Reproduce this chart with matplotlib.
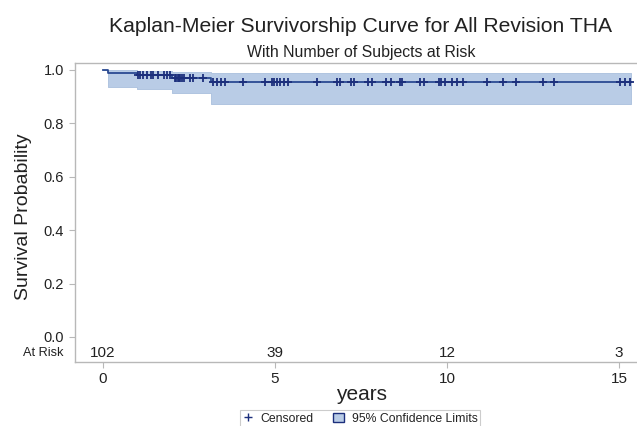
import numpy as np

import matplotlib
matplotlib.use("Agg")
import matplotlib.pyplot as plt
from matplotlib.lines import Line2D
from matplotlib.patches import Patch
from matplotlib.transforms import blended_transform_factory


plt.rcParams["font.family"] = ["Liberation Sans", "DejaVu Sans"]

# Kaplan-Meier step curve (years)
EVENT_TIMES = [0.0, 0.15, 0.98, 2.0, 3.13]
SURVIVAL = [1.0, 0.990, 0.980, 0.970, 0.955]
CI_LOWER = [1.0, 0.937, 0.928, 0.912, 0.872]
CI_UPPER = [1.0, 1.000, 0.996, 0.992, 0.988]
END_TIME = 15.35

CENSORED = [
    1.03, 1.08, 1.17, 1.29, 1.39, 1.46, 1.61, 1.77, 1.87, 1.95,
    2.09, 2.13, 2.17, 2.21, 2.25, 2.30, 2.35, 2.53, 2.62, 2.92,
    3.21, 3.31, 3.42, 3.55, 4.06, 4.71, 4.90, 4.97, 5.05, 5.15,
    5.26, 5.39, 6.21, 6.80, 6.88, 7.21, 7.30, 7.71, 7.82, 8.24,
    8.36, 8.63, 8.70, 9.22, 9.33, 9.78, 9.83, 9.94, 10.14, 10.30,
    10.47, 11.15, 11.62, 12.01, 12.80, 13.11, 15.03, 15.17, 15.32,
]

RISK_TIMES = [0, 5, 10, 15]
AT_RISK = [102, 39, 12, 3]

LINE_COLOR = "#2b4a92"
MARK_COLOR = "#1c2f7c"
BAND_COLOR = "#b9cce6"
SPINE_COLOR = "#b8b8b8"
TEXT_COLOR = "#222222"


def survival_at(times):
    idx = np.searchsorted(EVENT_TIMES, times, side="right") - 1
    return np.asarray(SURVIVAL)[idx]


def main():
    fig = plt.figure(figsize=(6.37, 4.26), dpi=100)
    ax = fig.add_axes([75 / 637, 64 / 426, 562 / 637, 299 / 426])

    t = EVENT_TIMES + [END_TIME]
    s = SURVIVAL + [SURVIVAL[-1]]
    lo = CI_LOWER + [CI_LOWER[-1]]
    hi = CI_UPPER + [CI_UPPER[-1]]

    ax.fill_between(t, lo, hi, step="post", color=BAND_COLOR,
                    edgecolor="#a9bfdd", linewidth=0.6)
    ax.step(t, s, where="post", color=LINE_COLOR, linewidth=1.3)
    ax.plot(CENSORED, survival_at(CENSORED), linestyle="none", marker="+",
            markersize=6, markeredgewidth=1.3, color=MARK_COLOR)

    ax.set_xlim(-0.81, 15.52)
    ax.set_ylim(-0.094, 1.026)
    ax.set_xticks(RISK_TIMES)
    ax.set_yticks([0.0, 0.2, 0.4, 0.6, 0.8, 1.0])
    ax.set_yticklabels(["0.0", "0.2", "0.4", "0.6", "0.8", "1.0"])

    for side in ["left", "bottom", "top"]:
        ax.spines[side].set_color(SPINE_COLOR)
        ax.spines[side].set_linewidth(1.0)
    ax.spines["right"].set_visible(False)

    ax.tick_params(axis="x", length=4, pad=3, colors=SPINE_COLOR,
                   labelcolor=TEXT_COLOR, labelsize=11)
    ax.tick_params(axis="y", length=4.5, pad=3.5, colors=SPINE_COLOR,
                   labelcolor=TEXT_COLOR, labelsize=10.5)

    # number at risk row
    for x, n in zip(RISK_TIMES, AT_RISK):
        ax.text(x, -0.062, str(n), ha="center", va="center",
                fontsize=11, color=TEXT_COLOR)
    trans = blended_transform_factory(ax.transAxes, ax.transData)
    ax.text(-0.021, -0.062, "At Risk", transform=trans, ha="right",
            va="center", fontsize=9.2, color=TEXT_COLOR)

    ax.set_xlabel("years", fontsize=15, color=TEXT_COLOR)
    ax.xaxis.set_label_coords(0.509, -0.078)
    ax.set_ylabel("Survival Probability", fontsize=14, color=TEXT_COLOR)
    ax.yaxis.set_label_coords(-0.077, 0.485)

    fig.text(361 / 637, 1 - 31.5 / 426, "Kaplan-Meier Survivorship Curve for All Revision THA",
             ha="center", va="baseline", fontsize=15.2, color=TEXT_COLOR)
    fig.text(361 / 637, 1 - 57 / 426, "With Number of Subjects at Risk",
             ha="center", va="baseline", fontsize=11.4, color=TEXT_COLOR)

    handles = [
        Line2D([], [], linestyle="none", marker="+", markersize=6,
               markeredgewidth=1.0, color=MARK_COLOR),
        Patch(facecolor=BAND_COLOR, edgecolor=MARK_COLOR, linewidth=1.0),
    ]
    leg = fig.legend(handles, ["Censored", "95% Confidence Limits"],
                     loc="center", bbox_to_anchor=(360 / 637, 1 - 418.5 / 426),
                     ncol=2, frameon=True, fancybox=False,
                     borderpad=0.2, handlelength=0.9, handleheight=0.8,
                     handletextpad=0.6, columnspacing=1.6, borderaxespad=0,
                     prop={"size": 8.8})
    leg.get_frame().set_edgecolor("#c0c0c0")
    leg.get_frame().set_linewidth(0.8)
    for txt in leg.get_texts():
        txt.set_color(TEXT_COLOR)

    fig.savefig("out.png", dpi=100)
    plt.close(fig)


if __name__ == "__main__":
    main()
